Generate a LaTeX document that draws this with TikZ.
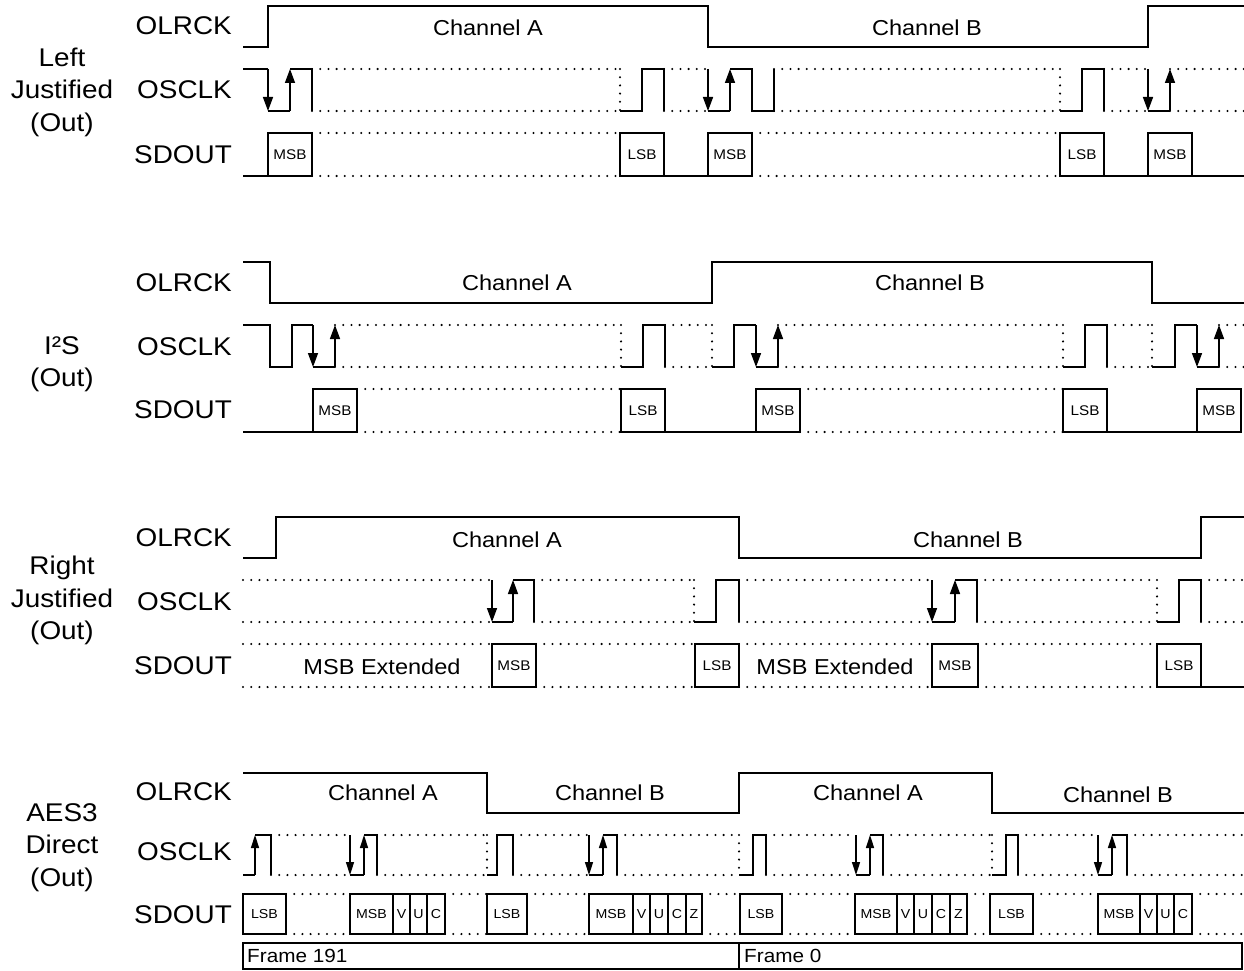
\documentclass[tikz,border=0pt]{standalone}
\usepackage{fontspec}
\setmainfont{Liberation Sans}[FakeStretch=1.09]
\usetikzlibrary{arrows.meta}
\tikzset{
    wave/.style = {line width=1.5pt, line join=miter},
    dotline/.style = {line width=2.3pt, line cap=round, dash pattern=on 0pt off 8.2pt},
    clkedge/.style = {wave, -{Triangle[length=14pt,width=10pt]}},
    signame/.style = {anchor=east, inner sep=0pt, font=\fontsize{25.6}{30}\selectfont},
    modename/.style = {anchor=north, inner sep=0pt, align=center, font=\fontsize{25.6}{32.5}\selectfont},
    chantext/.style = {inner sep=0pt, font=\fontsize{21.6}{26}\selectfont},
    bittext/.style = {inner sep=0pt, font=\fontsize{14}{16}\selectfont},
    frametext/.style = {anchor=west, inner sep=0pt, font=\fontsize{19}{22}\selectfont}
}
% waveform pieces (levels \ckh, \ckl, \dtop, \dbot set per section)
\newcommand{\clkgap}[2]{\draw[dotline] (#1,\ckh) -- (#2,\ckh) (#1,\ckl) -- (#2,\ckl);}
\newcommand{\datgap}[2]{\draw[dotline] (#1,\dtop) -- (#2,\dtop) (#1,\dbot) -- (#2,\dbot);}
\newcommand{\clkdown}[1]{\draw[clkedge] (#1,\ckh) -- (#1,\ckl);}
\newcommand{\clkup}[1]{\draw[clkedge] (#1,\ckl) -- (#1,\ckh);}
\newcommand{\clkvdots}[1]{\draw[dotline] (#1,\ckh) -- (#1,\ckl);}
\newcommand{\databit}[3]{\draw[wave] (#1,\dtop) rectangle node[bittext]{#3} (#2,\dbot);}

\begin{document}
\begin{tikzpicture}[x=1pt, y=-1pt]
    \useasboundingbox (0,0) rectangle (1244,971);

    % ---- Left Justified ----
    \node [modename] (ljmode) at (62,47.5) {Left\\Justified\\(Out)};
    \node [signame] (ljlrck) at (232,26) {OLRCK};
    \node [signame] (ljsclk) at (232,90) {OSCLK};
    \node [signame] (ljsdout) at (232,155) {SDOUT};
    \begin{scope}[shift={(0,6)}]
        \def\ckh{63}\def\ckl{105}\def\dtop{127}\def\dbot{170}
        \draw [wave] (243,41) -- (268,41) -- (268,0) -- (708,0) -- (708,41) -- (1148,41) -- (1148,0) -- (1244,0);
        \node [chantext] (ljchA) at (488,22) {Channel A};
        \node [chantext] (ljchB) at (927,22) {Channel B};
        % clock
        \draw [wave] (243,63) -- (268,63);
        \clkdown{268}
        \draw [wave] (268,105) -- (290,105);
        \clkup{290}
        \draw [wave] (290,63) -- (312,63) -- (312,105);
        \clkgap{312}{620}
        \clkvdots{620}
        \draw [wave] (620,105) -- (642,105) -- (642,63) -- (664,63) -- (664,105);
        \clkgap{664}{708}
        \clkdown{708}
        \draw [wave] (708,105) -- (730,105);
        \clkup{730}
        \draw [wave] (730,63) -- (752,63) -- (752,105) -- (774,105) -- (774,63);
        \clkgap{774}{1060}
        \clkvdots{1060}
        \draw [wave] (1060,105) -- (1082,105) -- (1082,63) -- (1104,63) -- (1104,105);
        \clkgap{1104}{1148}
        \clkdown{1148}
        \draw [wave] (1148,105) -- (1170,105);
        \clkup{1170}
        \clkgap{1170}{1244}
        % data
        \draw [wave] (243,170) -- (268,170);
        \databit{268}{312}{MSB}
        \datgap{312}{620}
        \databit{620}{664}{LSB}
        \draw [wave] (664,170) -- (708,170);
        \databit{708}{752}{MSB}
        \datgap{752}{1060}
        \databit{1060}{1104}{LSB}
        \draw [wave] (1104,170) -- (1148,170);
        \databit{1148}{1192}{MSB}
        \draw [wave] (1192,170) -- (1244,170);
    \end{scope}

    % ---- I2S ----
    \node [modename] (i2smode) at (62,336) {I²S\\(Out)};
    \node [signame] (i2slrck) at (232,283) {OLRCK};
    \node [signame] (i2ssclk) at (232,347) {OSCLK};
    \node [signame] (i2ssdout) at (232,410) {SDOUT};
    \begin{scope}[shift={(0,262)}]
        \def\ckh{63}\def\ckl{105}\def\dtop{127}\def\dbot{170}
        \draw [wave] (243,0) -- (270,0) -- (270,41) -- (712,41) -- (712,0) -- (1152,0) -- (1152,41) -- (1244,41);
        \node [chantext] (i2schA) at (517,21) {Channel A};
        \node [chantext] (i2schB) at (930,21) {Channel B};
        % clock
        \draw [wave] (243,63) -- (270,63) -- (270,105) -- (292,105) -- (292,63) -- (313,63);
        \clkdown{313}
        \draw [wave] (313,105) -- (335,105);
        \clkup{335}
        \clkgap{335}{621}
        \clkvdots{621}
        \draw [wave] (621,105) -- (643,105) -- (643,63) -- (665,63) -- (665,105);
        \clkgap{665}{712}
        \clkvdots{712}
        \draw [wave] (712,105) -- (734,105) -- (734,63) -- (756,63);
        \clkdown{756}
        \draw [wave] (756,105) -- (778,105);
        \clkup{778}
        \clkgap{778}{1063}
        \clkvdots{1063}
        \draw [wave] (1063,105) -- (1085,105) -- (1085,63) -- (1107,63) -- (1107,105);
        \clkgap{1107}{1152}
        \clkvdots{1152}
        \draw [wave] (1152,105) -- (1175,105) -- (1175,63) -- (1197,63);
        \clkdown{1197}
        \draw [wave] (1197,105) -- (1219,105);
        \clkup{1219}
        \clkgap{1219}{1244}
        % data
        \draw [wave] (243,170) -- (313,170);
        \databit{313}{357}{MSB}
        \datgap{357}{621}
        \databit{621}{665}{LSB}
        \draw [wave] (665,170) -- (756,170);
        \databit{756}{800}{MSB}
        \datgap{800}{1063}
        \databit{1063}{1107}{LSB}
        \draw [wave] (1107,170) -- (1197,170);
        \databit{1197}{1241}{MSB}
    \end{scope}

    % ---- Right Justified ----
    \node [modename] (rjmode) at (62,556) {Right\\Justified\\(Out)};
    \node [signame] (rjlrck) at (232,538) {OLRCK};
    \node [signame] (rjsclk) at (232,602) {OSCLK};
    \node [signame] (rjsdout) at (232,666) {SDOUT};
    \begin{scope}[shift={(0,517)}]
        \def\ckh{63}\def\ckl{105}\def\dtop{127}\def\dbot{170}
        \draw [wave] (243,41) -- (276,41) -- (276,0) -- (739,0) -- (739,41) -- (1201,41) -- (1201,0) -- (1244,0);
        \node [chantext] (rjchA) at (507,23) {Channel A};
        \node [chantext] (rjchB) at (968,23) {Channel B};
        % clock
        \clkgap{243}{492}
        \clkdown{492}
        \draw [wave] (492,105) -- (513,105);
        \clkup{513}
        \draw [wave] (513,63) -- (534,63) -- (534,105);
        \clkgap{534}{694}
        \clkvdots{694}
        \draw [wave] (694,105) -- (716,105) -- (716,63) -- (739,63) -- (739,105);
        \clkgap{739}{932}
        \clkdown{932}
        \draw [wave] (932,105) -- (955,105);
        \clkup{955}
        \draw [wave] (955,63) -- (977,63) -- (977,105);
        \clkgap{977}{1157}
        \clkvdots{1157}
        \draw [wave] (1157,105) -- (1179,105) -- (1179,63) -- (1201,63) -- (1201,105);
        \clkgap{1201}{1244}
        % data
        \datgap{243}{492}
        \node [chantext] (rjextA) at (382,150) {MSB Extended};
        \databit{492}{536}{MSB}
        \datgap{536}{695}
        \databit{695}{739}{LSB}
        \datgap{739}{932}
        \node [chantext] (rjextB) at (835,150) {MSB Extended};
        \databit{932}{978}{MSB}
        \datgap{978}{1157}
        \databit{1157}{1201}{LSB}
        \draw [wave] (1201,170) -- (1244,170);
    \end{scope}

    % ---- AES3 Direct ----
    \node [modename] (aesmode) at (62,803) {AES3\\Direct\\(Out)};
    \node [signame] (aeslrck) at (232,792) {OLRCK};
    \node [signame] (aessclk) at (232,852) {OSCLK};
    \node [signame] (aessdout) at (232,915) {SDOUT};
    \begin{scope}[shift={(0,773)}]
        \def\ckh{62}\def\ckl{102}\def\dtop{121}\def\dbot{161}
        \tikzset{bittext/.append style={font=\fontsize{13}{15}\selectfont},
                 clkedge/.append style={-{Triangle[length=13pt,width=8pt]}}}
        \draw [wave] (243,0) -- (487,0) -- (487,40) -- (739,40) -- (739,0) -- (992,0) -- (992,40) -- (1244,40);
        \node [chantext] (aeschA1) at (383,20) {Channel A};
        \node [chantext] (aeschB1) at (610,20) {Channel B};
        \node [chantext] (aeschA2) at (868,20) {Channel A};
        \node [chantext] (aeschB2) at (1118,22) {Channel B};
        % clock
        \draw [wave] (243,102) -- (255,102);
        \clkup{255}
        \draw [wave] (255,62) -- (271,62) -- (271,102);
        \clkgap{271}{350}
        \foreach \dn/\up/\fl/\nx in {350/364/377/487, 589/603/617/739, 856/870/883/992, 1098/1112/1127/1244}{
            \clkdown{\dn}
            \draw [wave] (\dn,102) -- (\up,102);
            \clkup{\up}
            \draw [wave] (\up,62) -- (\fl,62) -- (\fl,102);
            \clkgap{\fl}{\nx}
        }
        \foreach \st/\rs/\fl/\nx in {487/497/513/589, 739/753/766/856, 992/1006/1018/1098}{
            \clkvdots{\st}
            \draw [wave] (\st,102) -- (\rs,102) -- (\rs,62) -- (\fl,62) -- (\fl,102);
            \clkgap{\fl}{\nx}
        }
        % data
        \databit{243}{286}{LSB}
        \datgap{286}{350}
        \databit{350}{393}{MSB}
        \foreach \a/\b/\t in {393/410/V, 410/427/U, 427/445/C}{\databit{\a}{\b}{\t}}
        \datgap{445}{487}
        \databit{487}{527}{LSB}
        \datgap{527}{589}
        \databit{589}{633}{MSB}
        \foreach \a/\b/\t in {633/650/V, 650/668/U, 668/686/C, 686/702/Z}{\databit{\a}{\b}{\t}}
        \datgap{702}{740}
        \databit{740}{782}{LSB}
        \datgap{782}{855}
        \databit{855}{897}{MSB}
        \foreach \a/\b/\t in {897/914/V, 914/932/U, 932/950/C, 950/967/Z}{\databit{\a}{\b}{\t}}
        \datgap{967}{990}
        \databit{990}{1033}{LSB}
        \datgap{1033}{1098}
        \databit{1098}{1140}{MSB}
        \foreach \a/\b/\t in {1140/1157/V, 1157/1174/U, 1174/1192/C}{\databit{\a}{\b}{\t}}
        \datgap{1192}{1244}
        % frames
        \draw [wave] (243,170) rectangle (739,196);
        \node [frametext] (frm191) at (247,183) {Frame 191};
        \draw [wave] (739,170) rectangle (1242,196);
        \node [frametext] (frm0) at (744,183) {Frame 0};
    \end{scope}
\end{tikzpicture}
\end{document}
